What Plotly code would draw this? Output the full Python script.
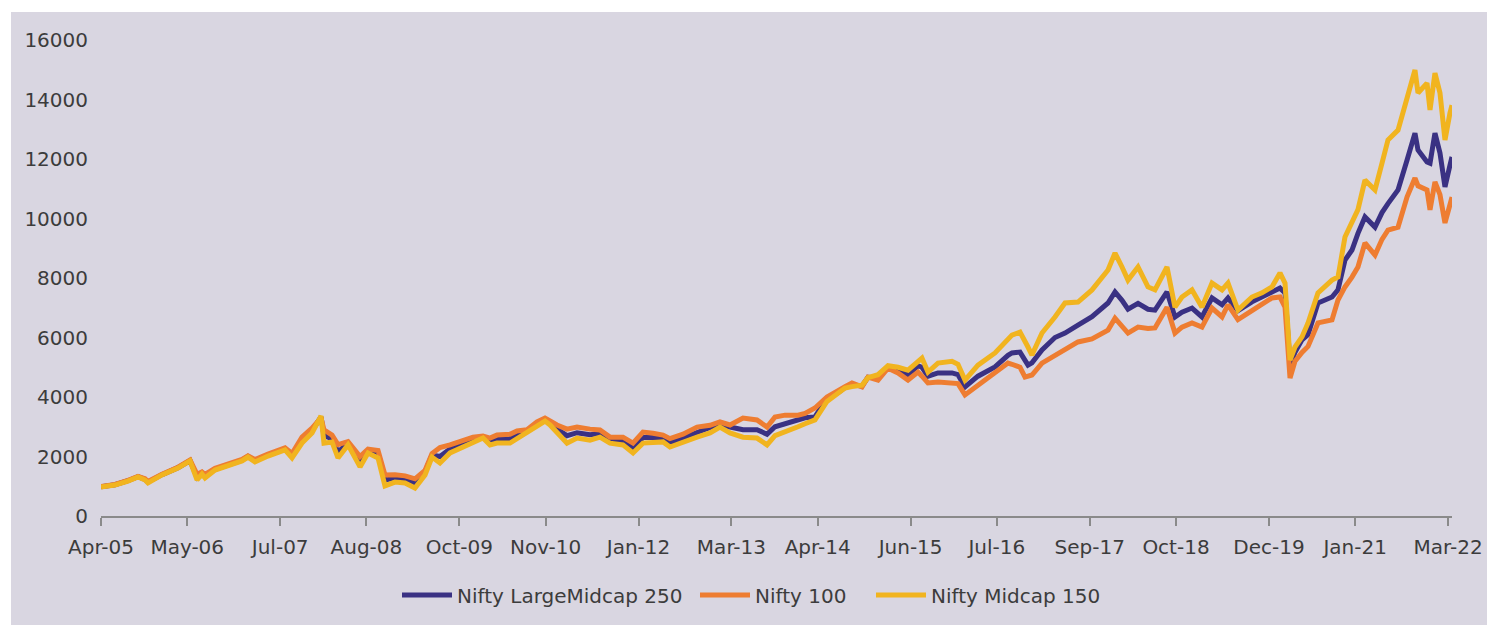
import plotly.graph_objects as go

# x values: time in decimal years
years = [
    2005.250, 2005.426, 2005.589, 2005.715, 2005.803, 2005.840, 2006.016, 2006.217, 2006.368, 2006.430,
    2006.456, 2006.518, 2006.556, 2006.682, 2006.933, 2007.021, 2007.096, 2007.184, 2007.347, 2007.561,
    2007.649, 2007.774, 2007.900, 2008.013, 2008.050, 2008.151, 2008.226, 2008.352, 2008.503, 2008.603,
    2008.729, 2008.816, 2008.942, 2009.068, 2009.193, 2009.319, 2009.407, 2009.507, 2009.633, 2009.796,
    2009.922, 2010.047, 2010.135, 2010.223, 2010.386, 2010.474, 2010.600, 2010.725, 2010.826, 2010.889,
    2010.976, 2011.102, 2011.228, 2011.391, 2011.516, 2011.642, 2011.805, 2011.931, 2012.056, 2012.182,
    2012.308, 2012.395, 2012.559, 2012.735, 2012.898, 2013.023, 2013.149, 2013.312, 2013.488, 2013.614,
    2013.714, 2013.840, 2014.003, 2014.091, 2014.216, 2014.367, 2014.505, 2014.593, 2014.681, 2014.807,
    2014.882, 2015.008, 2015.133, 2015.259, 2015.384, 2015.510, 2015.560, 2015.635, 2015.761, 2015.937,
    2016.012, 2016.100, 2016.263, 2016.477, 2016.640, 2016.690, 2016.791, 2016.854, 2016.891, 2016.941,
    2017.067, 2017.230, 2017.356, 2017.519, 2017.695, 2017.896, 2017.984, 2018.072, 2018.147, 2018.273,
    2018.398, 2018.486, 2018.637, 2018.737, 2018.825, 2018.951, 2019.076, 2019.202, 2019.328, 2019.403,
    2019.528, 2019.704, 2019.830, 2019.955, 2020.056, 2020.119, 2020.182, 2020.244, 2020.332, 2020.408,
    2020.533, 2020.709, 2020.784, 2020.872, 2020.960, 2021.035, 2021.123, 2021.249, 2021.337, 2021.412,
    2021.538, 2021.651, 2021.751, 2021.789, 2021.902, 2021.940, 2022.002, 2022.065, 2022.128, 2022.191,
    2022.216,
]

nifty_midcap_150 = [
    975, 1040, 1175, 1310, 1210, 1110, 1380, 1610, 1850, 1380,
    1210, 1410, 1280, 1545, 1780, 1850, 1980, 1815, 2015, 2220,
    1950, 2450, 2790, 3360, 2450, 2490, 1950, 2390, 1650, 2120,
    1950, 1010, 1140, 1110, 940, 1380, 1980, 1780, 2120, 2320,
    2450, 2620, 2390, 2450, 2450, 2600, 2820, 3020, 3190, 3060,
    2790, 2450, 2620, 2550, 2650, 2450, 2390, 2120, 2450, 2490,
    2490, 2320, 2490, 2650, 2790, 2990, 2790, 2650, 2620, 2390,
    2700, 2850, 3000, 3100, 3230, 3850, 4100, 4300, 4350, 4400,
    4650, 4750, 5050, 5000, 4900, 5200, 5310, 4840, 5140, 5200,
    5100, 4570, 5070, 5480, 5950, 6080, 6180, 5900, 5680, 5410,
    6150, 6690, 7160, 7190, 7600, 8270, 8840, 8370, 7930, 8370,
    7700, 7600, 8370, 7020, 7360, 7600, 7020, 7830, 7600, 7830,
    6920, 7360, 7500, 7700, 8170, 7830, 5240, 5680, 6020, 6490,
    7500, 7930, 8030, 9380, 9900, 10300, 11290, 10960, 11860, 12640,
    12970, 14080, 14990, 14220, 14550, 13650, 14890, 14220, 12640, 13550,
    13810,
]

nifty_100 = [
    990, 1060, 1200, 1330, 1250, 1160, 1400, 1640, 1880, 1500,
    1400, 1480, 1400, 1600, 1830, 1900, 2020, 1900, 2080, 2290,
    2100, 2650, 2950, 3300, 2900, 2720, 2400, 2500, 2000, 2250,
    2200, 1380, 1390, 1350, 1250, 1530, 2100, 2300, 2390, 2550,
    2650, 2690, 2620, 2720, 2750, 2860, 2900, 3160, 3290, 3200,
    3060, 2920, 2990, 2920, 2890, 2650, 2650, 2450, 2820, 2780,
    2720, 2600, 2750, 2990, 3050, 3160, 3060, 3290, 3230, 2990,
    3330, 3390, 3390, 3450, 3630, 4000, 4230, 4350, 4470, 4340,
    4670, 4570, 4970, 4810, 4570, 4840, 4700, 4470, 4500, 4470,
    4450, 4070, 4400, 4810, 5140, 5100, 5000, 4670, 4700, 4740,
    5140, 5400, 5600, 5850, 5950, 6250, 6650, 6350, 6150, 6350,
    6300, 6320, 7020, 6150, 6350, 6490, 6350, 6990, 6690, 7100,
    6600, 6900, 7100, 7330, 7360, 7020, 4640, 5200, 5500, 5700,
    6490, 6590, 7260, 7700, 8030, 8370, 9180, 8770, 9300, 9610,
    9710, 10720, 11360, 11100, 10960, 10290, 11230, 10800, 9850, 10400,
    10720,
]

nifty_largemidcap_250 = [
    980, 1050, 1185, 1320, 1230, 1140, 1390, 1625, 1865, 1440,
    1300, 1445, 1340, 1570, 1800, 1875, 2000, 1860, 2050, 2250,
    2030, 2550, 2870, 3330, 2700, 2600, 2150, 2450, 1820, 2180,
    2080, 1200, 1290, 1230, 1100, 1480, 2050, 2000, 2250, 2430,
    2550, 2650, 2500, 2580, 2600, 2730, 2860, 3090, 3240, 3120,
    2920, 2700, 2800, 2730, 2770, 2550, 2520, 2280, 2640, 2640,
    2610, 2460, 2620, 2820, 2950, 3100, 2990, 2900, 2900, 2750,
    3000, 3100, 3200, 3300, 3330, 3950, 4150, 4320, 4400, 4370,
    4660, 4650, 5000, 4900, 4750, 5050, 5000, 4700, 4810, 4810,
    4750, 4340, 4700, 5010, 5400, 5480, 5510, 5200, 5070, 5150,
    5580, 6000, 6150, 6420, 6700, 7160, 7530, 7250, 6950, 7150,
    6950, 6920, 7530, 6690, 6850, 6990, 6690, 7330, 7100, 7330,
    6900, 7200, 7360, 7550, 7660, 7500, 5100, 5500, 5920, 6100,
    7160, 7360, 7600, 8600, 8940, 9500, 10050, 9710, 10200, 10500,
    10960, 11960, 12870, 12300, 11900, 11860, 12870, 12200, 11060, 11800,
    12070,
]

tick_labels = ["Apr-05", "May-06", "Jul-07", "Aug-08", "Oct-09", "Nov-10", "Jan-12", "Mar-13",
               "Apr-14", "Jun-15", "Jul-16", "Sep-17", "Oct-18", "Dec-19", "Jan-21", "Mar-22"]
tick_years = [2005.25, 2006.333, 2007.5, 2008.583, 2009.75, 2010.833, 2012.0, 2013.167,
              2014.25, 2015.417, 2016.5, 2017.667, 2018.75, 2019.917, 2021.0, 2022.167]

series = [
    ("Nifty LargeMidcap 250", nifty_largemidcap_250, "#3a3183", "legend", 397),
    ("Nifty 100", nifty_100, "#ee7d31", "legend2", 695),
    ("Nifty Midcap 150", nifty_midcap_150, "#f1b41f", "legend3", 871),
]

BG = "#d9d6e1"
TXT = "#3c3c3c"
FONT = "DejaVu Sans, sans-serif"
FS = 20

W, H = 1487, 625
L, R, T, B = 101, 35, 40, 109
pw = W - L - R
ph = H - T - B

fig = go.Figure()
legends = {}
for name, vals, color, leg, left_px in series:
    fig.add_trace(go.Scatter(
        x=years, y=vals, mode="lines", name=name, legend=leg,
        line=dict(color=color, width=5, shape="linear"),
    ))
    legends[leg] = dict(
        orientation="h", x=(left_px - L) / pw, xanchor="left",
        y=(516 - 595) / ph, yanchor="middle",
        bgcolor="rgba(0,0,0,0)", borderwidth=0,
        font=dict(family=FONT, size=FS, color=TXT),
        itemwidth=50,
    )

fig.update_layout(
    width=W, height=H,
    margin=dict(l=L, r=R, t=T, b=B, pad=0, autoexpand=False),
    paper_bgcolor=BG, plot_bgcolor=BG,
    font=dict(family=FONT, size=FS, color=TXT),
    showlegend=True,
    xaxis=dict(
        range=[2005.25, 2022.216], automargin=False,
        tickmode="array", tickvals=tick_years, ticktext=tick_labels,
        showgrid=False, zeroline=False,
        showline=True, linecolor="#8a8a8a", linewidth=2,
        ticks="outside", ticklen=8, tickwidth=2, tickcolor="#8a8a8a",
        ticklabelstandoff=4,
        tickfont=dict(size=FS, color=TXT),
    ),
    yaxis=dict(
        range=[0, 16000], tickmode="array", automargin=False,
        tickvals=[0, 2000, 4000, 6000, 8000, 10000, 12000, 14000, 16000],
        ticktext=["0", "2000", "4000", "6000", "8000", "10000", "12000", "14000", "16000"],
        showgrid=False, zeroline=False, showline=False,
        ticks="", ticklabelstandoff=12,
        tickfont=dict(size=FS, color=TXT),
    ),
    shapes=[
        dict(type="rect", xref="paper", yref="paper",
             x0=(0 - L) / pw - 0.01, x1=(W - L) / pw + 0.01,
             y0=(516 - 12) / ph, y1=(516 + 5) / ph + 0.05,
             fillcolor="white", line=dict(width=0), layer="below"),
        dict(type="rect", xref="paper", yref="paper",
             x0=(0 - L) / pw - 0.01, x1=(11 - L) / pw,
             y0=(516 - H - 5) / ph, y1=(516 + 5) / ph + 0.05,
             fillcolor="white", line=dict(width=0), layer="below"),
    ],
    **legends,
)

fig.write_html(
    "out.html",
    config={"displayModeBar": False},
    post_script="document.body.style.margin='0';document.body.style.overflow='hidden';",
)
